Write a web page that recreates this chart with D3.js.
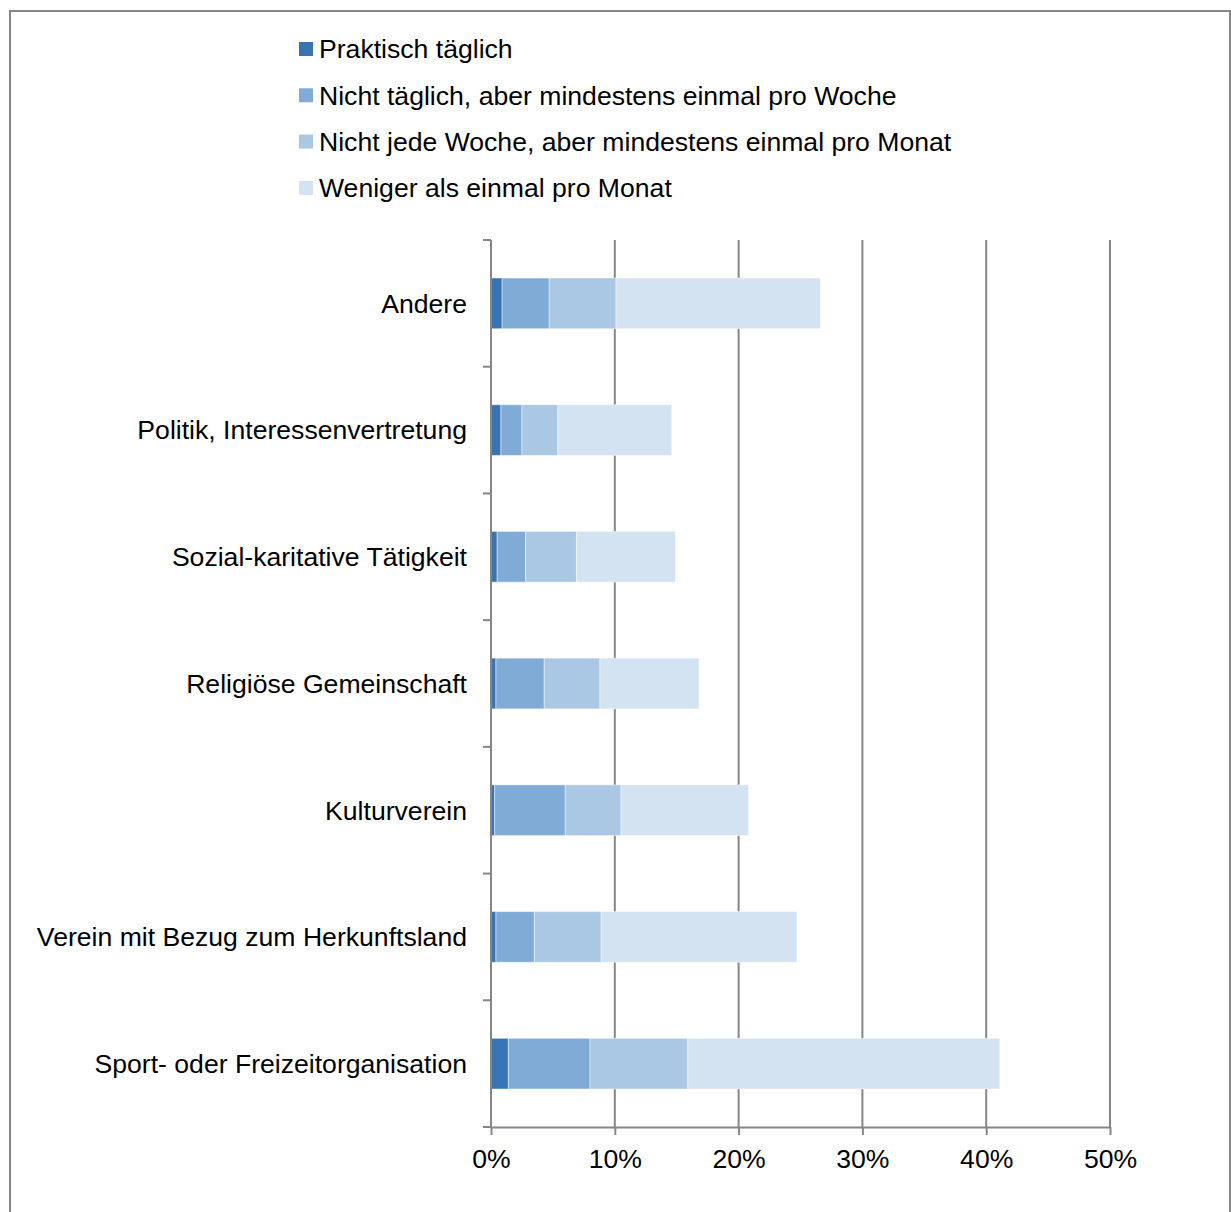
<!DOCTYPE html>
<html>
<head>
<meta charset="utf-8">
<script src="https://cdn.jsdelivr.net/npm/d3@7/dist/d3.min.js"></script>
<style>
  html, body { margin: 0; padding: 0; background: #fff; }
  svg { display: block; }
  text { font-family: "Liberation Sans", Arial, sans-serif; fill: #000; }
</style>
</head>
<body>
<script>
// Categories, top to bottom
const categories = [
  "Andere",
  "Politik, Interessenvertretung",
  "Sozial-karitative Tätigkeit",
  "Religiöse Gemeinschaft",
  "Kulturverein",
  "Verein mit Bezug zum Herkunftsland",
  "Sport- oder Freizeitorganisation"
];

// Series names (legend order = stack order)
const seriesNames = [
  "Praktisch täglich",
  "Nicht täglich, aber mindestens einmal pro Woche",
  "Nicht jede Woche, aber mindestens einmal pro Monat",
  "Weniger als einmal pro Monat"
];

// Shares in percent, one array per series, aligned with categories
const praktischTaeglich   = [0.9, 0.8, 0.5, 0.4, 0.3, 0.4, 1.4];
const mindestensWoche     = [3.8, 1.7, 2.3, 3.9, 5.7, 3.1, 6.6];
const mindestensMonat     = [5.4, 2.9, 4.1, 4.5, 4.5, 5.4, 7.9];
const wenigerAlsMonat     = [16.5, 9.2, 8.0, 8.0, 10.3, 15.8, 25.2];

// Axis ticks
const xTicks = [0, 10, 20, 30, 40, 50];
const xTickLabels = ["0%", "10%", "20%", "30%", "40%", "50%"];

const colors = ["#3873B3", "#7FABD6", "#AAC7E4", "#D4E3F2"];
const FS = 26.6;

const W = 1231, H = 1212;
const svg = d3.select("body").append("svg").attr("width", W).attr("height", H);

// Chart frame
svg.append("rect")
  .attr("x", 10).attr("y", 11).attr("width", 1220).attr("height", 1220)
  .attr("fill", "#fff").attr("stroke", "#868686").attr("stroke-width", 2);

const plot = { left: 491, right: 1110, top: 240, bottom: 1127 };

const x = d3.scaleLinear().domain([0, 50]).range([plot.left, plot.right]);
const y = d3.scaleBand().domain(categories).range([plot.top, plot.bottom]).paddingInner(0.6).paddingOuter(0.3);
const yBand = d3.scaleBand().domain(categories).range([plot.top, plot.bottom]);

// Stacked data
const rows = categories.map((c, i) => ({
  cat: c,
  s0: praktischTaeglich[i],
  s1: mindestensWoche[i],
  s2: mindestensMonat[i],
  s3: wenigerAlsMonat[i]
}));
const stack = d3.stack().keys(["s0", "s1", "s2", "s3"])(rows);

// Vertical gridlines
svg.append("g").selectAll("line")
  .data(xTicks.slice(1))
  .join("line")
  .attr("x1", d => x(d)).attr("x2", d => x(d))
  .attr("y1", plot.top).attr("y2", plot.bottom)
  .attr("stroke", "#868686").attr("stroke-width", 2);

// Bars
svg.append("g").selectAll("g")
  .data(stack)
  .join("g")
  .attr("fill", (d, i) => colors[i])
  .selectAll("rect")
  .data(d => d)
  .join("rect")
  .attr("x", d => x(d[0]))
  .attr("width", d => x(d[1]) - x(d[0]))
  .attr("y", d => y(d.data.cat))
  .attr("height", y.bandwidth())
  .attr("stroke", "#ffffff").attr("stroke-opacity", 0.45).attr("stroke-width", 1);

// X axis
const xAxis = d3.axisBottom(x)
  .tickValues(xTicks)
  .tickFormat((d, i) => xTickLabels[i])
  .tickSize(8)
  .tickSizeOuter(0)
  .tickPadding(14);
const gx = svg.append("g").attr("transform", `translate(0,${plot.bottom})`).call(xAxis);
gx.select(".domain").attr("stroke", "#868686").attr("stroke-width", 2);
gx.selectAll(".tick line").attr("stroke", "#868686").attr("stroke-width", 2);
gx.selectAll(".tick text").attr("font-size", FS).attr("font-family", "Liberation Sans, Arial, sans-serif").attr("fill", "#000");

// Y axis line with ticks between categories
svg.append("line")
  .attr("x1", plot.left).attr("x2", plot.left)
  .attr("y1", plot.top).attr("y2", plot.bottom)
  .attr("stroke", "#868686").attr("stroke-width", 2);
const boundaries = categories.map(c => yBand(c)).concat([plot.bottom]);
svg.append("g").selectAll("line")
  .data(boundaries)
  .join("line")
  .attr("x1", plot.left - 8).attr("x2", plot.left)
  .attr("y1", d => d).attr("y2", d => d)
  .attr("stroke", "#868686").attr("stroke-width", 2);

// Category labels
svg.append("g").selectAll("text")
  .data(categories)
  .join("text")
  .attr("x", 467)
  .attr("y", d => yBand(d) + yBand.bandwidth() / 2)
  .attr("dy", "0.35em")
  .attr("text-anchor", "end")
  .attr("font-size", FS)
  .text(d => d);

// Legend
const legend = svg.append("g").selectAll("g")
  .data(seriesNames)
  .join("g")
  .attr("transform", (d, i) => `translate(299,${49 + i * 46.3})`);
legend.append("rect")
  .attr("x", 0).attr("y", -7).attr("width", 14).attr("height", 14)
  .attr("fill", (d, i) => colors[i]);
legend.append("text")
  .attr("x", 20).attr("y", 0).attr("dy", "0.35em")
  .attr("font-size", FS)
  .text(d => d);
</script>
</body>
</html>
